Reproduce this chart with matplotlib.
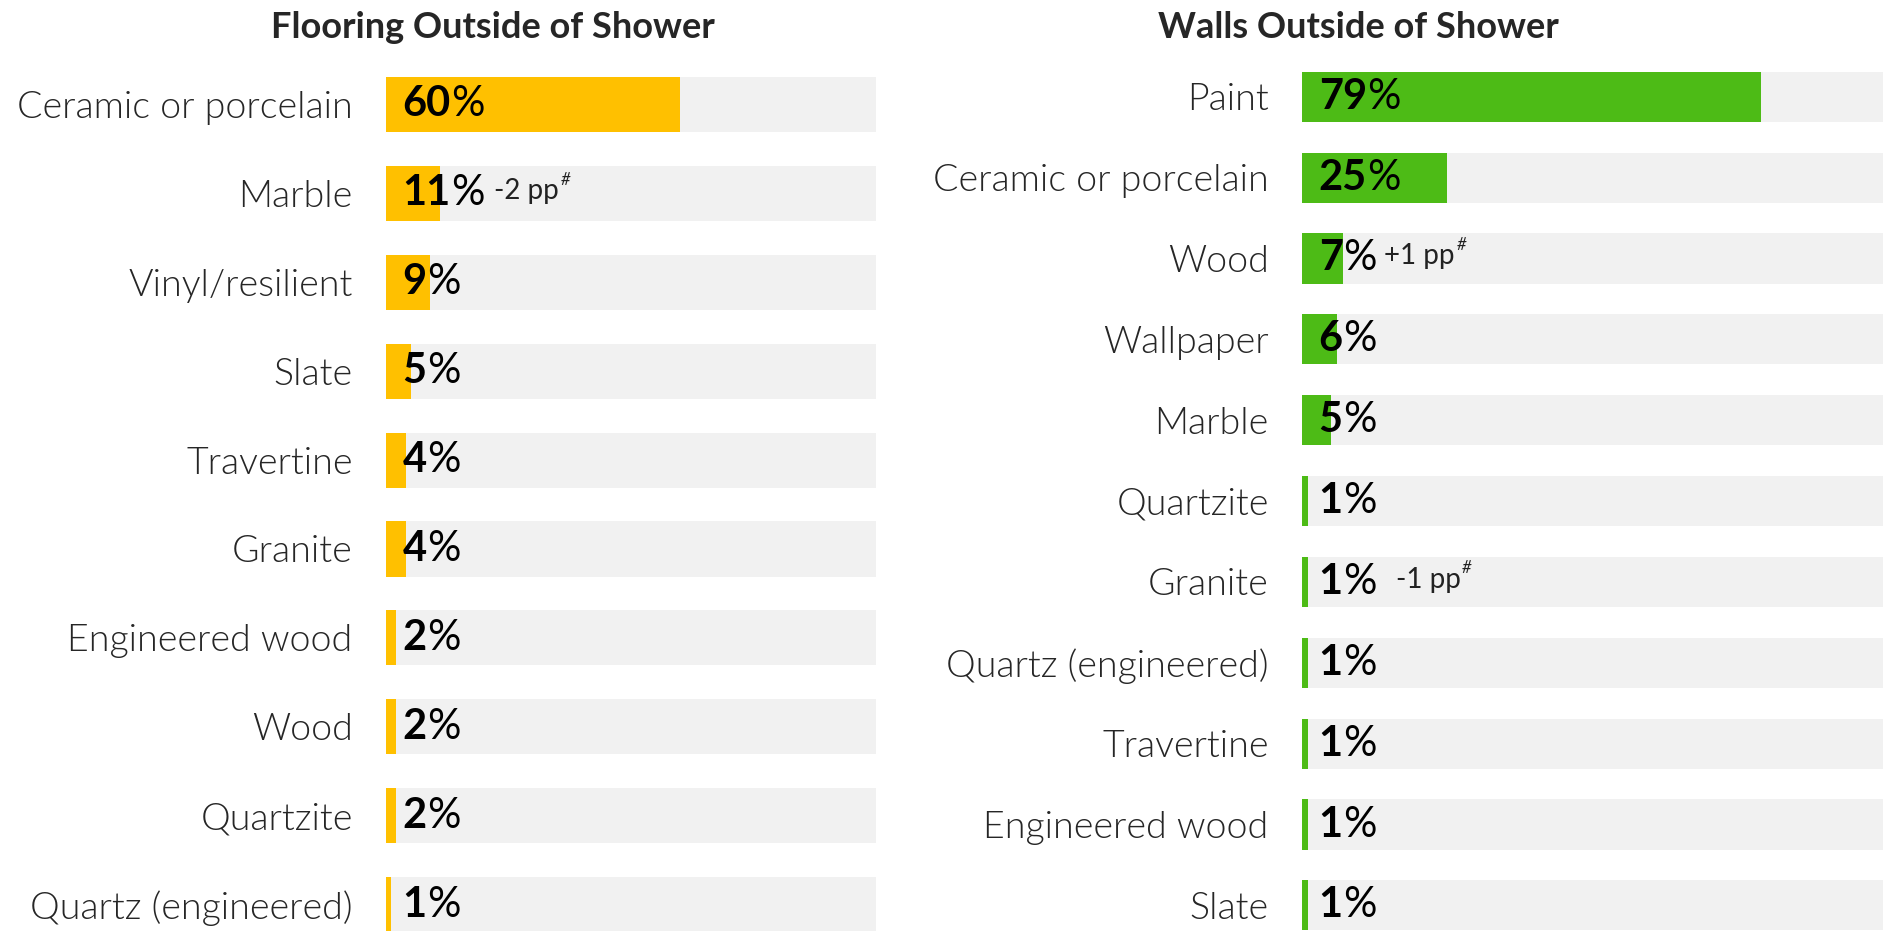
import matplotlib
matplotlib.use('Agg')
import matplotlib.pyplot as plt

# flooring outside of shower
floor_cats = ['Ceramic or porcelain', 'Marble', 'Vinyl/resilient', 'Slate', 'Travertine',
              'Granite', 'Engineered wood', 'Wood', 'Quartzite', 'Quartz (engineered)']
floor_vals = [60, 11, 9, 5, 4, 4, 2, 2, 2, 1]
floor_notes = {'Marble': '-2 pp'}

# walls outside of shower
wall_cats = ['Paint', 'Ceramic or porcelain', 'Wood', 'Wallpaper', 'Marble', 'Quartzite',
             'Granite', 'Quartz (engineered)', 'Travertine', 'Engineered wood', 'Slate']
wall_vals = [79, 25, 7, 6, 5, 1, 1, 1, 1, 1, 1]
wall_notes = {'Wood': '+1 pp', 'Granite': '-1 pp'}

# gap (points) between value label and the pp note
note_gap = {'-2 pp': 7, '+1 pp': 6, '-1 pp': 14}

plt.rcParams['font.family'] = ['Lato', 'DejaVu Sans']

fig = plt.figure(figsize=(19.01, 9.31), dpi=100)
W, H = 1901, 931


def panel(rect_px, cats, vals, notes, color, title, title_x, row0, step):
    x0, x1 = rect_px
    ax = fig.add_axes([x0 / W, 0, (x1 - x0) / W, 1])
    # row i centred at row0 + i*step pixels from the top
    top = -row0 / step
    bottom = (H - row0) / step
    ax.set_ylim(bottom, top)
    ax.set_xlim(0, 100)
    y = list(range(len(cats)))
    ax.barh(y, [100] * len(cats), height=0.62, color='#f1f1f1')
    ax.barh(y, vals, height=0.62, color=color)
    for i, v in enumerate(vals):
        t = ax.annotate(str(v), xy=(0, i), xytext=(12, 0), textcoords='offset points',
                        va='center', ha='left', fontsize=30, fontweight='bold', color='#000000')
        p = ax.annotate('%', xy=(1, 0), xycoords=t, xytext=(0, 0), textcoords='offset points',
                        va='bottom', ha='left', fontsize=30, color='#000000')
        if cats[i] in notes:
            txt = notes[cats[i]]
            n = ax.annotate(txt, xy=(1, 0), xycoords=p, xytext=(note_gap[txt], 6),
                            textcoords='offset points', va='bottom', ha='left',
                            fontsize=20, color='#222222')
            ax.annotate('#', xy=(1, 0.62), xycoords=n, xytext=(1, 0),
                        textcoords='offset points', va='bottom', ha='left',
                        fontsize=12, style='italic', color='#222222')
    ax.set_yticks(y)
    ax.set_yticklabels(cats, fontsize=27, fontweight=300, color='#262626')
    ax.tick_params(axis='y', length=0, pad=24)
    ax.set_xticks([])
    for s in ax.spines.values():
        s.set_visible(False)
    fig.text(title_x / W, 1 - 27 / H, title, ha='center', va='center',
             fontsize=26, fontweight='bold', color='#262626')
    return ax


panel((386, 876), floor_cats, floor_vals, floor_notes, '#ffc000',
      'Flooring Outside of Shower', 493, 104.5, 88.9)
panel((1302, 1883), wall_cats, wall_vals, wall_notes, '#4dbb16',
      'Walls Outside of Shower', 1358, 96.7, 80.87)

fig.savefig('out.png', dpi=100)
